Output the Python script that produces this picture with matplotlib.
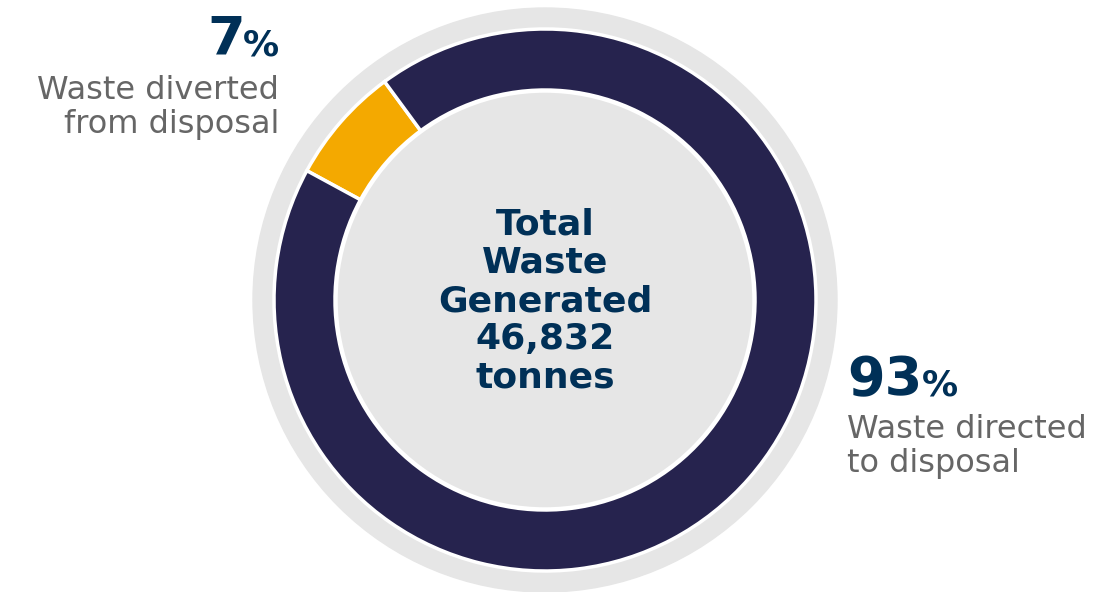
import matplotlib.pyplot as plt
from matplotlib.patches import Circle

# data
categories = ["Waste diverted\nfrom disposal", "Waste directed\nto disposal"]
shares = [7, 93]
colors = ["#f4a900", "#26234e"]
total_tonnes = 46832

NAVY_TXT = "#003057"
GREY_TXT = "#666666"
RING_BG = "#e6e6e6"
FONT = ["DejaVu Sans"]

fig = plt.figure(figsize=(11.02, 5.92), dpi=100)
ax = fig.add_axes([0, 0, 1, 1])

# pixel-like coordinates, y pointing up
cx, cy = 545, 292
ax.add_patch(Circle((cx, cy), 292, color=RING_BG, zorder=0))

ax.pie(
    shares,
    colors=colors,
    startangle=151.5,
    counterclock=False,
    center=(cx, cy),
    radius=271,
    wedgeprops=dict(width=61, edgecolor="white", linewidth=2.5),
)
ax.add_patch(Circle((cx, cy), 209, facecolor=RING_BG, edgecolor="white", lw=2.5, zorder=3))

ax.set_xlim(0, 1102)
ax.set_ylim(0, 592)
ax.set_aspect("equal")
ax.axis("off")

# centre text
ax.text(cx, 592 - 301, f"Total\nWaste\nGenerated\n{total_tonnes:,}\ntonnes",
        ha="center", va="center", fontsize=26, fontweight="bold",
        color=NAVY_TXT, family=FONT, linespacing=1.16, zorder=5)

# left label (7%)
ax.text(279, 592 - 133, categories[0], ha="right", va="baseline",
        fontsize=23, color=GREY_TXT, family=FONT, linespacing=1.12)
pct_l = ax.text(279, 592 - 55, "%", ha="right", va="baseline",
                fontsize=26, fontweight="bold", color=NAVY_TXT, family=FONT)
fig.canvas.draw()
inv = ax.transData.inverted()
x_left = inv.transform(pct_l.get_window_extent().get_points())[0][0]
ax.text(x_left + 2, 592 - 55, f"{shares[0]}", ha="right", va="baseline",
        fontsize=39, fontweight="bold", color=NAVY_TXT, family=FONT)

# right label (93%)
num_r = ax.text(847, 592 - 395, f"{shares[1]}", ha="left", va="baseline",
                fontsize=39, fontweight="bold", color=NAVY_TXT, family=FONT)
fig.canvas.draw()
x_right = inv.transform(num_r.get_window_extent().get_points())[1][0]
ax.text(x_right, 592 - 395, "%", ha="left", va="baseline",
        fontsize=26, fontweight="bold", color=NAVY_TXT, family=FONT)
ax.text(847, 592 - 472, categories[1], ha="left", va="baseline",
        fontsize=23, color=GREY_TXT, family=FONT, linespacing=1.12)

fig.savefig("out.png", dpi=100)
